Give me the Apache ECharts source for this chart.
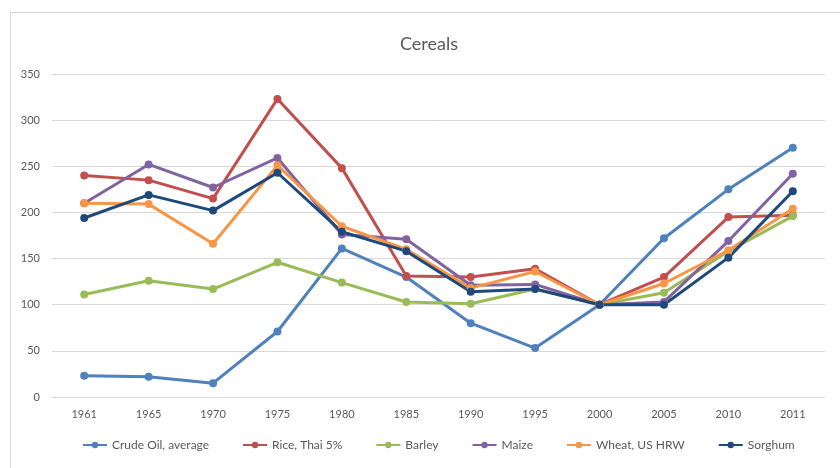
<!DOCTYPE html>
<html>
<head>
<meta charset="utf-8">
<script src="https://cdn.jsdelivr.net/npm/echarts@6/dist/echarts.min.js"></script>
<style>
  html, body { margin: 0; padding: 0; background: #fff; }
  #main { width: 840px; height: 468px; }
</style>
</head>
<body>
<div id="main"></div>
<script>
// data
var years = ['1961', '1965', '1970', '1975', '1980', '1985', '1990', '1995', '2000', '2005', '2010', '2011'];
var crudeOil = [23, 22, 15, 71, 161, 130, 80, 53, 100, 172, 225, 270];
var rice = [240, 235, 215, 323, 248, 131, 130, 139, 100, 130, 195, 197];
var barley = [111, 126, 117, 146, 124, 103, 101, 117, 100, 113, 158, 196];
var maize = [210, 252, 227, 259, 176, 171, 121, 122, 100, 103, 169, 242];
var wheat = [210, 209, 166, 251, 185, 160, 118, 136, 100, 123, 159, 204];
var sorghum = [194, 219, 202, 243, 179, 158, 114, 117, 100, 100, 151, 223];

var names = ['Crude Oil, average', 'Rice, Thai 5%', 'Barley', 'Maize', 'Wheat, US HRW', 'Sorghum'];
var colors = ['#4F81BD', '#C0504D', '#9BBB59', '#8064A2', '#F79646', '#1F497D'];
var values = [crudeOil, rice, barley, maize, wheat, sorghum];

var chart = echarts.init(document.getElementById('main'));

function makeSeries(i) {
  return {
    name: names[i],
    type: 'line',
    data: values[i],
    symbol: 'circle',
    symbolSize: 8,
    lineStyle: { width: 3, color: colors[i] },
    itemStyle: { color: colors[i] },
    emphasis: { disabled: true }
  };
}

var seriesList = [];
for (var i = 0; i < names.length; i++) {
  seriesList.push(makeSeries(i));
}

var option = {
  animation: false,
  color: colors,
  textStyle: { fontFamily: 'Lato, sans-serif' },
  title: {
    text: 'Cereals',
    left: 395,
    top: 30,
    textStyle: { fontSize: 18, fontWeight: 'normal', color: '#595959', fontFamily: 'Lato, sans-serif' }
  },
  grid: {
    left: 52,
    right: 15,
    top: 74,
    bottom: 71
  },
  legend: {
    bottom: 12,
    left: 77,
    itemWidth: 24,
    itemHeight: 8,
    itemGap: 33,
    textStyle: { fontSize: 12, color: '#595959' },
    data: names
  },
  xAxis: {
    type: 'category',
    data: years,
    boundaryGap: true,
    axisLine: { show: false },
    axisTick: { show: false },
    axisLabel: { color: '#595959', fontSize: 11, margin: 12 }
  },
  yAxis: {
    type: 'value',
    min: 0,
    max: 350,
    interval: 50,
    axisLine: { show: false },
    axisTick: { show: false },
    axisLabel: { color: '#595959', fontSize: 11, margin: 12 },
    splitLine: { lineStyle: { color: '#D9D9D9', width: 1 } }
  },
  graphic: [{
    type: 'rect',
    left: 8,
    top: 10,
    shape: { width: 900, height: 520 },
    style: { fill: 'none', stroke: '#D9D9D9', lineWidth: 1 },
    z: -1
  }],
  series: seriesList
};

chart.setOption(option);
</script>
</body>
</html>
